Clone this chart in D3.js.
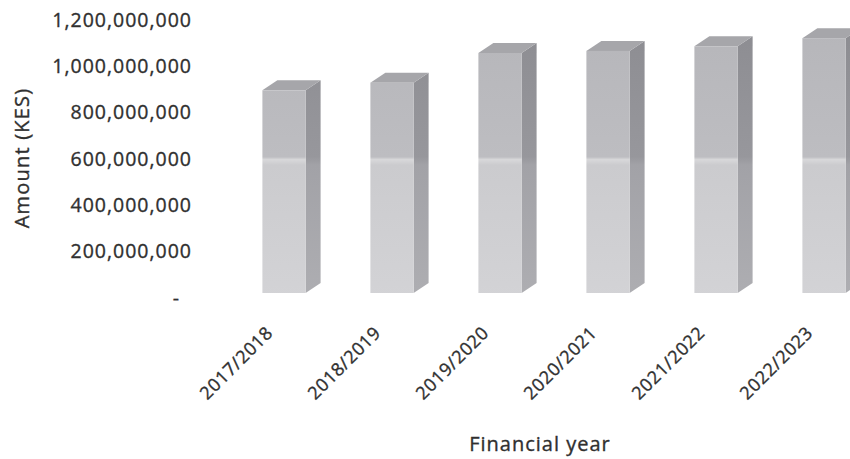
<!DOCTYPE html>
<html lang="en">
<head>
<meta charset="UTF-8">
<title>Amount (KES) by financial year</title>
<script src="https://d3js.org/d3.v7.min.js"></script>
<style>
  body { margin: 0; background: #fff; }
  text { font-family: "Open Sans", sans-serif; fill: #303030; stroke: #303030; stroke-width: 0.35px; }
</style>
</head>
<body>
<script>

    const width = 850;
    const height = 459;

    const years = ['2017/2018','2018/2019','2019/2020','2020/2021','2021/2022','2022/2023'];
    const amounts = [875e6, 908e6, 1036e6, 1045e6, 1065e6, 1100e6];
    const ticks = [0, 200e6, 400e6, 600e6, 800e6, 1000e6, 1200e6];

    // 3d look of the columns
    const depthX = 15;
    const depthY = 10;
    const lift = 5;

    const svg = d3.select("body").append("svg")
        .attr("width", width).attr("height", height);

    const y = d3.scaleLinear().domain([0, 1200e6]).range([298, 20]);
    const x = d3.scaleBand().domain(years).range([230, 878])
        .paddingInner(0.6).paddingOuter(0.3);

    const defs = svg.append("defs");
    function grad(id, stops) {
        const g = defs.append("linearGradient").attr("id", id)
            .attr("gradientUnits", "userSpaceOnUse")
            .attr("x1", 0).attr("x2", 0).attr("y1", 30).attr("y2", 300);
        stops.forEach(s => g.append("stop").attr("offset", s[0]).attr("stop-color", s[1]));
    }
    grad("front", [[0, "#b6b6ba"], [0.47, "#bdbdc1"], [0.48, "#d8d8da"], [0.5, "#cbcbce"], [1, "#d3d3d6"]]);
    grad("side", [[0, "#8d8d92"], [0.47, "#97979c"], [0.5, "#a2a2a7"], [1, "#aeaeb2"]]);

    // y tick labels
    svg.append("g").selectAll("text").data(ticks).join("text")
        .attr("x", d => d === 0 ? 180 : 192)
        .attr("y", d => y(d))
        .attr("dy", "0.35em")
        .attr("text-anchor", "end")
        .attr("font-size", 19.5)
        .attr("letter-spacing", 1)
        .text(d => d === 0 ? "-" : d3.format(",")(d));

    // columns
    const bars = svg.append("g").selectAll("g").data(years).join("g");
    bars.each(function(yr, i) {
        const g = d3.select(this);
        const x0 = x(yr), x1 = x0 + x.bandwidth();
        const yb = y(0) - lift, yt = y(amounts[i]) - lift;
        g.append("path")
            .attr("d", `M${x1},${yb}L${x1 + depthX},${yb - depthY}L${x1 + depthX},${yt - depthY}L${x1},${yt}Z`)
            .attr("fill", "url(#side)");
        g.append("path")
            .attr("d", `M${x0},${yt}L${x0 + depthX},${yt - depthY}L${x1 + depthX},${yt - depthY}L${x1},${yt}Z`)
            .attr("fill", "#a6a6aa");
        g.append("rect")
            .attr("x", x0).attr("y", yt)
            .attr("width", x.bandwidth()).attr("height", yb - yt)
            .attr("fill", "url(#front)");
    });

    // x tick labels
    svg.append("g").selectAll("text").data(years).join("text")
        .attr("transform", d => `translate(${x(d) + x.bandwidth() / 2 - 10},334) rotate(-45)`)
        .attr("text-anchor", "end")
        .attr("font-size", 18)
        .attr("letter-spacing", 0.6)
        .text(d => d);

    // axis titles
    svg.append("text")
        .attr("transform", "translate(29,158) rotate(-90)")
        .attr("text-anchor", "middle")
        .attr("font-size", 20)
        .attr("letter-spacing", 1.2)
        .text("Amount (KES)");

    svg.append("text")
        .attr("x", 540).attr("y", 451)
        .attr("text-anchor", "middle")
        .attr("font-size", 20)
        .attr("letter-spacing", 1)
        .text("Financial year");

</script>
</body>
</html>
